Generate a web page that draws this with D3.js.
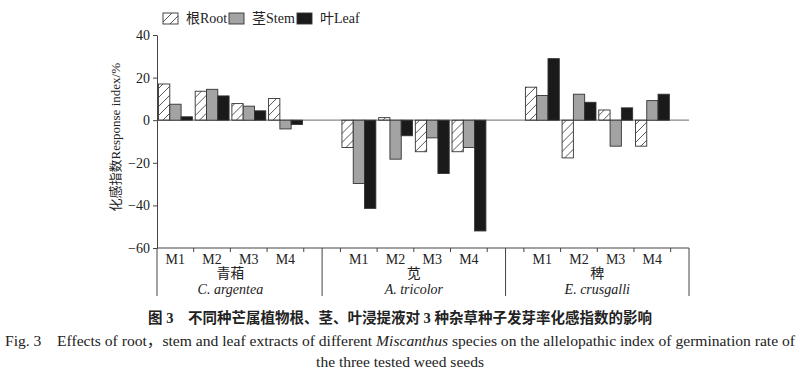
<!DOCTYPE html>
<html>
<head>
<meta charset="utf-8">
<script src="https://cdn.jsdelivr.net/npm/d3@7"></script>
<style>
  body { margin: 0; background: #fff; }
  text { font-family: "Liberation Serif", "Noto Sans CJK SC", serif; fill: #222; }
</style>
</head>
<body>
<div id="chart"></div>
<script>
// data
const species = ["青葙", "苋", "稗"];
const speciesLatin = ["C. argentea", "A. tricolor", "E. crusgalli"];
const treatments = ["M1", "M2", "M3", "M4"];
const seriesNames = ["根Root", "茎Stem", "叶Leaf"];
const yTicks = [-60, -40, -20, 0, 20, 40];

// order: C. argentea M1..M4, A. tricolor M1..M4, E. crusgalli M1..M4
const root = [17, 13.6, 7.8, 10.2, -12.8, 1.2, -14.8, -14.8, 15.5, -17.7, 4.8, -12.2];
const stem = [7.5, 14.5, 6.6, -4.1, -29.7, -18.3, -8.3, -12.8, 11.6, 12.2, -12.2, 9.2];
const leaf = [1.6, 11.4, 4.4, -2.0, -41.4, -7.3, -25, -52, 28.9, 8.4, 5.8, 12.2];

const width = 800,
    height = 375,
    margin = ({top: 35, right: 111, bottom: 127, left: 157});

const svg = d3.select("#chart")
    .append("svg")
    .attr("width", width)
    .attr("height", height)
    .attr("viewBox", [0, 0, width, height]);

// slot units: each species gets 5 slots (4 treatments + gap)
const x = d3.scaleLinear()
    .domain([0, 14.5])
    .range([margin.left, width - margin.right]);

const y = d3.scaleLinear()
    .domain([-60, 40])
    .range([height - margin.bottom, margin.top]);

const slotW = x(1) - x(0);
const inner = d3.scaleBand()
    .domain(seriesNames)
    .range([1.5, slotW - 1.3]);

const rows = [];
species.forEach((s, g) => {
    treatments.forEach((t, i) => {
        const k = g * 4 + i;
        rows.push({g, t, slot: g * 5 + i, vals: [root[k], stem[k], leaf[k]]});
    });
});

// hatch pattern for root
const defs = svg.append("defs");
defs.append("pattern")
    .attr("id", "hatch")
    .attr("patternUnits", "userSpaceOnUse")
    .attr("width", 9)
    .attr("height", 9)
    .append("path")
    .attr("d", "M-1,10 L10,-1 M-2,2 L2,-2 M7,11 L11,7")
    .attr("stroke", "#444")
    .attr("stroke-width", 0.9);

const fills = ["url(#hatch)", "#a3a3a3", "#1a1a1a"];

// zero line
svg.append("line")
    .attr("x1", x(0)).attr("x2", x(14.5))
    .attr("y1", y(0)).attr("y2", y(0))
    .attr("stroke", "#888")
    .attr("stroke-width", 1.2);

// bars
const bar = svg.selectAll(".cluster")
    .data(rows)
    .join("g")
    .attr("class", "cluster")
    .attr("transform", d => `translate(${x(d.slot)},0)`);

bar.selectAll("rect")
    .data(d => d.vals.map((v, j) => ({v, name: seriesNames[j], j})))
    .join("rect")
    .attr("x", d => inner(d.name))
    .attr("width", inner.bandwidth())
    .attr("y", d => y(Math.max(0, d.v)))
    .attr("height", d => Math.abs(y(d.v) - y(0)))
    .attr("fill", d => fills[d.j])
    .attr("stroke", "#333")
    .attr("stroke-width", 0.9);

// y axis
const yAxis = g => g
    .attr("transform", `translate(${margin.left},0)`)
    .call(d3.axisLeft(y).tickValues(yTicks).tickSize(4).tickSizeOuter(0))
    .call(g => g.select(".domain").attr("stroke", "#444"))
    .call(g => g.selectAll(".tick line").attr("stroke", "#444"))
    .call(g => g.selectAll(".tick text")
        .attr("font-family", "Liberation Serif")
        .attr("font-size", 14)
        .attr("fill", "#222"));

svg.append("g").call(yAxis);

// bottom axis line
const base = y(-60);
svg.append("line")
    .attr("x1", x(0)).attr("x2", x(14.5))
    .attr("y1", base).attr("y2", base)
    .attr("stroke", "#444");

// small ticks at slot edges
const tickSlots = [];
species.forEach((s, g) => { for (let i = 0; i <= 4; i++) if (g * 5 + i > 0) tickSlots.push(g * 5 + i); });
svg.selectAll(".xtick")
    .data(tickSlots)
    .join("line")
    .attr("class", "xtick")
    .attr("x1", d => x(d)).attr("x2", d => x(d))
    .attr("y1", base).attr("y2", base + 4)
    .attr("stroke", "#444");

// group separators
svg.selectAll(".sep")
    .data([0, 4.5, 9.5, 14.5])
    .join("line")
    .attr("class", "sep")
    .attr("x1", d => x(d)).attr("x2", d => x(d))
    .attr("y1", base).attr("y2", base + 48)
    .attr("stroke", "#444");

// treatment labels
svg.selectAll(".mlab")
    .data(rows)
    .join("text")
    .attr("class", "mlab")
    .attr("x", d => x(d.slot + 0.5))
    .attr("y", base + 16)
    .attr("text-anchor", "middle")
    .attr("font-size", 14)
    .text(d => d.t);

svg.selectAll(".cn")
    .data(species)
    .join("text")
    .attr("class", "cn")
    .attr("x", (d, g) => x(g * 5 + 2))
    .attr("y", base + 30)
    .attr("text-anchor", "middle")
    .attr("font-size", 14)
    .text(d => d);

svg.selectAll(".latin")
    .data(speciesLatin)
    .join("text")
    .attr("class", "latin")
    .attr("x", (d, g) => x(g * 5 + 2))
    .attr("y", base + 46)
    .attr("text-anchor", "middle")
    .attr("font-size", 14)
    .attr("font-style", "italic")
    .text(d => d);

// y label
svg.append("text")
    .attr("transform", `translate(120,${y(-8)}) rotate(-90)`)
    .attr("text-anchor", "middle")
    .attr("font-size", 13)
    .text("化感指数Response index/%");

// legend
const legendX = [163, 229, 297];
const legend = svg.selectAll(".legend")
    .data(seriesNames)
    .join("g")
    .attr("class", "legend")
    .attr("transform", (d, j) => `translate(${legendX[j]},13)`);

legend.append("rect")
    .attr("width", 15)
    .attr("height", 11)
    .attr("fill", (d, j) => fills[j])
    .attr("stroke", "#333")
    .attr("stroke-width", 0.9);

legend.append("text")
    .attr("x", 23)
    .attr("y", 10)
    .attr("font-size", 14)
    .text(d => d);

// caption
svg.append("text")
    .attr("x", 400)
    .attr("y", 323)
    .attr("text-anchor", "middle")
    .attr("font-family", "Noto Sans CJK SC")
    .attr("font-weight", "bold")
    .attr("font-size", 14.5)
    .attr("xml:space", "preserve")
    .text("图 3    不同种芒属植物根、茎、叶浸提液对 3 种杂草种子发芽率化感指数的影响");

const cap2 = svg.append("text")
    .attr("x", 5)
    .attr("y", 346)
    .attr("font-size", 15.5)
    .attr("textLength", 790)
    .attr("lengthAdjust", "spacingAndGlyphs")
    .attr("xml:space", "preserve");
cap2.append("tspan").text("Fig. 3    Effects of root，stem and leaf extracts of different ");
cap2.append("tspan").attr("font-style", "italic").text("Miscanthus");
cap2.append("tspan").text(" species on the allelopathic index of germination rate of");

svg.append("text")
    .attr("x", 400)
    .attr("y", 367)
    .attr("text-anchor", "middle")
    .attr("font-size", 15.5)
    .text("the three tested weed seeds");
</script>
</body>
</html>
